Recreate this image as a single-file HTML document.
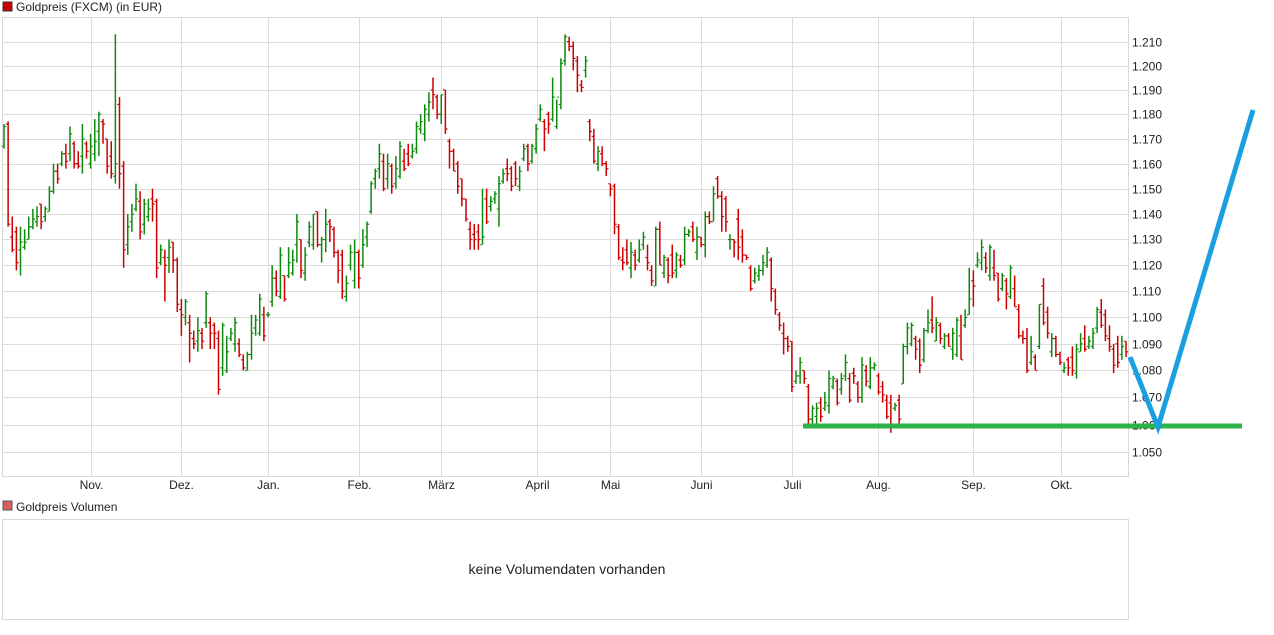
<!DOCTYPE html>
<html><head><meta charset="utf-8"><style>
body{margin:0;background:#fff;width:1274px;height:630px;overflow:hidden;font-family:"Liberation Sans",Arial,sans-serif}
svg text{font-family:"Liberation Sans",Arial,sans-serif}
</style></head><body>
<svg id="c" width="1274" height="630" xmlns="http://www.w3.org/2000/svg">
<rect x="3" y="2" width="9" height="9" fill="#cc0000" stroke="#333" stroke-width="1"/>
<text x="16" y="11" font-size="12" fill="#222">Goldpreis (FXCM) (in EUR)</text>
<rect x="2.5" y="17.5" width="1126" height="459" fill="none" stroke="#d8d8d8"/>
<g id="grid"></g>
<g id="bars"></g>
<g id="ylab"></g>
<g id="xlab"></g>
<line x1="803" y1="426" x2="1242" y2="426" stroke="#2db14a" stroke-width="5"/>
<polyline points="1130,357 1158,427 1253,110" fill="none" stroke="#1a9fe0" stroke-width="5" stroke-linejoin="miter"/>
<rect x="3" y="501" width="9" height="9" fill="#d96060" stroke="#555" stroke-width="1"/>
<text x="16" y="511" font-size="12" fill="#222">Goldpreis Volumen</text>
<rect x="2.5" y="519.5" width="1126" height="100" fill="none" stroke="#d8d8d8"/>
<text x="567" y="574" font-size="14" fill="#222" text-anchor="middle">keine Volumendaten vorhanden</text>
</svg>
<script>
const opens=[1.167,1.176,1.131,1.133,1.126,1.127,1.130,1.135,1.137,1.144,1.139,1.141,1.149,1.157,1.160,1.164,1.164,1.168,1.160,1.163,1.168,1.160,1.164,1.173,1.177,1.170,1.163,1.155,1.184,1.159,1.128,1.137,1.142,1.145,1.136,1.139,1.146,1.145,1.121,1.123,1.123,1.129,1.122,1.103,1.100,1.098,1.092,1.091,1.094,1.098,1.098,1.097,1.092,1.081,1.080,1.092,1.090,1.090,1.084,1.080,1.086,1.096,1.094,1.101,1.101,1.106,1.115,1.108,1.116,1.116,1.117,1.128,
1.130,1.117,1.129,1.128,1.141,1.128,1.130,1.137,1.134,1.125,1.124,1.108,1.120,1.114,1.125,1.120,1.131,1.141,1.154,1.158,1.161,1.154,1.159,1.152,1.155,1.161,1.164,1.163,1.166,1.174,1.172,1.180,1.190,1.187,1.180,1.190,1.169,1.165,1.160,1.154,1.146,1.134,1.132,1.133,1.128,1.146,1.143,1.146,1.142,1.153,1.158,1.158,1.160,1.151,1.162,1.167,1.161,1.166,1.178,1.177,1.180,1.178,1.175,1.184,1.202,1.210,1.208,1.202,1.192,1.198,1.177,1.171,1.160,1.164,1.160,1.152,1.151,1.135,
1.122,1.126,1.119,1.124,1.122,1.128,1.123,1.118,1.112,1.134,1.117,1.122,1.124,1.118,1.122,1.122,1.132,1.135,1.125,1.131,1.128,1.139,1.137,1.154,1.147,1.146,1.130,1.130,1.138,1.131,1.124,1.119,1.114,1.116,1.118,1.120,1.122,1.110,1.101,1.094,1.092,1.091,1.076,1.078,1.080,1.074,1.062,1.063,1.068,1.066,1.067,1.074,1.076,1.073,1.078,1.077,1.079,1.075,1.070,1.080,1.074,1.081,1.078,1.074,1.069,1.068,1.066,1.069,1.075,1.089,1.090,1.092,1.091,1.084,1.095,1.099,1.091,1.097,1.089,1.093,1.088,1.086,1.093,1.097,1.101,1.114,1.120,1.121,1.123,1.116,1.119,1.117,1.111,1.114,1.108,1.111,1.103,1.093,1.092,1.083,1.085,1.089,1.112,1.102,1.087,1.092,1.086,1.080,1.084,1.085,1.079,1.087,1.092,1.089,1.089,1.096,1.102,1.101,1.092,1.088,1.090,1.086,1.091];
const highs=[1.176,1.177,1.139,1.135,1.135,1.134,1.139,1.142,1.143,1.144,1.143,1.151,1.160,1.160,1.165,1.168,1.175,1.169,1.165,1.176,1.169,1.172,1.178,1.181,1.178,1.170,1.169,1.213,1.187,1.161,1.140,1.144,1.152,1.149,1.146,1.146,1.150,1.146,1.128,1.126,1.130,1.129,1.123,1.107,1.107,1.101,1.095,1.100,1.096,1.110,1.100,1.098,1.095,1.098,1.093,1.096,1.100,1.092,1.086,1.087,1.101,1.101,1.109,1.104,1.102,1.120,1.118,1.127,1.116,1.127,1.126,1.140,
1.130,1.127,1.137,1.140,1.141,1.131,1.142,1.138,1.135,1.126,1.126,1.116,1.128,1.130,1.126,1.134,1.137,1.153,1.158,1.168,1.164,1.164,1.160,1.163,1.169,1.166,1.168,1.168,1.177,1.180,1.184,1.189,1.195,1.188,1.188,1.190,1.170,1.166,1.161,1.154,1.146,1.137,1.136,1.136,1.150,1.150,1.147,1.149,1.155,1.158,1.162,1.159,1.161,1.159,1.168,1.168,1.168,1.176,1.184,1.178,1.181,1.195,1.186,1.203,1.213,1.212,1.210,1.204,1.194,1.204,1.178,1.174,1.167,1.167,1.161,1.152,1.152,1.136,
1.127,1.130,1.129,1.126,1.130,1.133,1.128,1.120,1.135,1.137,1.124,1.123,1.128,1.125,1.124,1.135,1.134,1.137,1.135,1.131,1.141,1.141,1.151,1.155,1.149,1.147,1.132,1.130,1.142,1.134,1.124,1.120,1.119,1.120,1.124,1.127,1.123,1.111,1.102,1.098,1.093,1.091,1.080,1.085,1.080,1.075,1.067,1.068,1.070,1.072,1.080,1.078,1.077,1.079,1.086,1.079,1.081,1.076,1.085,1.082,1.085,1.083,1.079,1.076,1.071,1.071,1.068,1.071,1.090,1.098,1.098,1.093,1.092,1.096,1.103,1.108,1.100,1.098,1.094,1.094,1.096,1.100,1.101,1.103,1.119,1.118,1.125,1.130,1.125,1.128,1.126,1.117,1.117,1.115,1.120,1.116,1.105,1.095,1.096,1.093,1.086,1.105,1.115,1.104,1.094,1.093,1.087,1.083,1.085,1.089,1.090,1.094,1.097,1.093,1.096,1.104,1.107,1.103,1.097,1.090,1.093,1.093,1.091];
const lows=[1.166,1.135,1.125,1.118,1.116,1.126,1.130,1.134,1.135,1.134,1.137,1.141,1.148,1.152,1.159,1.158,1.161,1.158,1.158,1.156,1.162,1.158,1.161,1.163,1.168,1.156,1.154,1.152,1.150,1.119,1.124,1.133,1.141,1.130,1.132,1.137,1.137,1.115,1.120,1.106,1.117,1.117,1.102,1.093,1.097,1.083,1.088,1.087,1.088,1.096,1.088,1.088,1.071,1.078,1.079,1.091,1.087,1.085,1.080,1.080,1.084,1.093,1.093,1.091,1.100,1.104,1.108,1.107,1.106,1.115,1.116,1.121,
1.115,1.114,1.127,1.126,1.127,1.121,1.125,1.129,1.123,1.113,1.107,1.106,1.118,1.111,1.111,1.119,1.127,1.140,1.150,1.154,1.149,1.150,1.148,1.150,1.154,1.157,1.159,1.162,1.164,1.172,1.169,1.177,1.182,1.178,1.176,1.172,1.158,1.157,1.148,1.143,1.137,1.126,1.126,1.126,1.128,1.136,1.141,1.144,1.135,1.152,1.153,1.149,1.151,1.149,1.161,1.157,1.160,1.164,1.177,1.165,1.172,1.177,1.174,1.182,1.200,1.206,1.198,1.189,1.189,1.195,1.169,1.160,1.157,1.159,1.155,1.147,1.132,1.122,
1.118,1.120,1.115,1.118,1.121,1.126,1.118,1.112,1.112,1.120,1.115,1.113,1.115,1.115,1.119,1.120,1.131,1.129,1.122,1.127,1.123,1.136,1.137,1.146,1.133,1.133,1.126,1.123,1.122,1.121,1.122,1.110,1.113,1.114,1.116,1.119,1.106,1.101,1.095,1.086,1.087,1.072,1.075,1.075,1.075,1.060,1.060,1.060,1.061,1.065,1.064,1.073,1.067,1.071,1.076,1.068,1.075,1.068,1.068,1.074,1.073,1.080,1.071,1.068,1.062,1.057,1.065,1.060,1.075,1.086,1.089,1.084,1.079,1.083,1.094,1.094,1.091,1.090,1.088,1.089,1.084,1.085,1.084,1.096,1.101,1.104,1.119,1.118,1.117,1.114,1.114,1.106,1.110,1.103,1.107,1.104,1.092,1.090,1.079,1.082,1.080,1.088,1.097,1.092,1.085,1.085,1.082,1.079,1.078,1.078,1.077,1.087,1.087,1.088,1.088,1.094,1.096,1.091,1.087,1.079,1.081,1.084,1.085];
const closes=[1.175,1.136,1.126,1.121,1.129,1.129,1.135,1.138,1.139,1.137,1.142,1.149,1.157,1.154,1.164,1.161,1.172,1.160,1.159,1.170,1.165,1.167,1.169,1.180,1.176,1.159,1.156,1.160,1.156,1.126,1.135,1.140,1.146,1.133,1.144,1.142,1.144,1.119,1.126,1.120,1.127,1.122,1.105,1.101,1.106,1.094,1.090,1.095,1.091,1.109,1.094,1.094,1.073,1.097,1.087,1.094,1.098,1.086,1.081,1.086,1.094,1.099,1.107,1.093,1.101,1.115,1.110,1.124,1.107,1.121,1.122,1.137,
1.118,1.124,1.135,1.140,1.128,1.130,1.136,1.135,1.125,1.118,1.110,1.113,1.125,1.125,1.115,1.128,1.136,1.152,1.157,1.164,1.150,1.160,1.151,1.158,1.167,1.158,1.160,1.165,1.175,1.177,1.182,1.185,1.188,1.180,1.188,1.174,1.165,1.157,1.151,1.146,1.138,1.130,1.130,1.130,1.131,1.137,1.145,1.148,1.152,1.156,1.156,1.151,1.154,1.157,1.166,1.160,1.167,1.174,1.182,1.174,1.176,1.187,1.187,1.201,1.212,1.208,1.203,1.196,1.191,1.202,1.173,1.161,1.165,1.160,1.158,1.150,1.136,1.123,
1.121,1.121,1.125,1.120,1.126,1.131,1.121,1.114,1.134,1.120,1.123,1.116,1.117,1.124,1.120,1.132,1.133,1.130,1.131,1.128,1.139,1.137,1.148,1.147,1.139,1.137,1.130,1.129,1.127,1.124,1.123,1.111,1.117,1.118,1.121,1.125,1.111,1.103,1.097,1.092,1.089,1.074,1.078,1.083,1.077,1.062,1.066,1.066,1.063,1.068,1.077,1.077,1.068,1.077,1.083,1.069,1.078,1.070,1.082,1.076,1.081,1.082,1.072,1.071,1.063,1.060,1.067,1.062,1.089,1.096,1.097,1.088,1.082,1.095,1.098,1.096,1.098,1.092,1.093,1.089,1.094,1.099,1.084,1.100,1.107,1.112,1.122,1.127,1.119,1.127,1.116,1.107,1.116,1.109,1.119,1.104,1.093,1.092,1.080,1.087,1.080,1.105,1.098,1.094,1.092,1.086,1.083,1.081,1.081,1.080,1.088,1.090,1.088,1.091,1.094,1.103,1.097,1.093,1.089,1.082,1.083,1.089,1.087];
const yTicks=[1.050,1.060,1.070,1.080,1.090,1.100,1.110,1.120,1.130,1.140,1.150,1.160,1.170,1.180,1.190,1.200,1.210];
const monthLabels=["Nov.","Dez.","Jan.","Feb.","März","April","Mai","Juni","Juli","Aug.","Sep.","Okt."];
const monthIdx=[21.1,42.9,64,86,106,129.2,147,169,191,211.9,235,256.2];

const NS="http://www.w3.org/2000/svg";
const X0=4, DX=(1126-4)/272;
function xs(i){return X0+i*DX;}
function ys(v){return 41.5+2894*(Math.log(1.21)-Math.log(v));}
function mk(tag,attrs,parent){const e=document.createElementNS(NS,tag);for(const k in attrs)e.setAttribute(k,attrs[k]);parent.appendChild(e);return e;}
const grid=document.getElementById('grid'),bars=document.getElementById('bars'),ylab=document.getElementById('ylab'),xlab=document.getElementById('xlab');
yTicks.forEach(t=>{
  const y=Math.round(ys(t))+0.5;
  const l=mk('line',{x1:3,x2:1128,y1:y,y2:y,stroke:'#dcdcdc','stroke-width':1},grid);
  
  
  const tx=mk('text',{x:1132,y:y+4,'font-size':12,fill:'#222'},ylab);
  tx.textContent=t.toFixed(3);
  
  
});
monthIdx.forEach((m,k)=>{
  const x=Math.round(xs(m))+0.5;
  const l=mk('line',{x1:x,x2:x,y1:18,y2:476,stroke:'#dcdcdc','stroke-width':1},grid);
  
  
  const tx=mk('text',{x:x,y:489,'font-size':12,fill:'#222','text-anchor':'middle'},xlab);
  tx.textContent=monthLabels[k];
  
  
});
for(let i=0;i<closes.length;i++){
  const x=xs(i), col=closes[i]>=opens[i]?'#0d8a0d':'#cc0000';
  const g=mk('g',{fill:col},bars);
  
  
  const yh=ys(highs[i]), yl=ys(lows[i]);
  mk('rect',{x:x-0.75,y:yh,width:1.5,height:Math.max(1,yl-yh)},g);
  mk('rect',{x:x-2.2,y:ys(opens[i])-0.5,width:1.6,height:1.2},g);
  mk('rect',{x:x+0.6,y:ys(closes[i])-0.5,width:1.6,height:1.2},g);
}
</script>
</body></html>
